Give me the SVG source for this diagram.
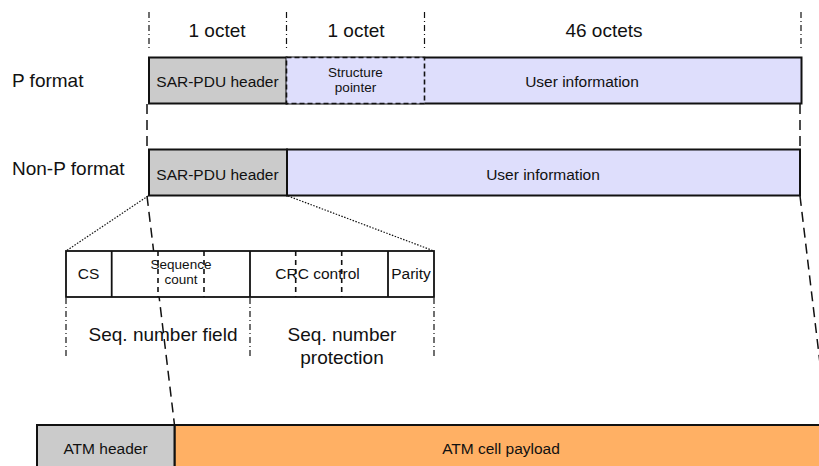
<svg xmlns="http://www.w3.org/2000/svg" width="819" height="466" viewBox="0 0 819 466">
<style>
text{font-family:"Liberation Sans",Arial,sans-serif;fill:#111;}
.lbl{font-size:19px;}
.box{font-size:15.5px;}
.sm{font-size:13.5px;}
.gray{fill:#cbcbcb;stroke:#111;stroke-width:2;}
.lav{fill:#dedefc;stroke:#111;stroke-width:2;}
.lavd{fill:#dedefc;stroke:#111;stroke-width:1.6;stroke-dasharray:5,3;}
.org{fill:#ffb064;stroke:#111;stroke-width:2;}
.wb{fill:#fff;stroke:#111;stroke-width:1.8;}
.dd{stroke:#111;stroke-width:1.2;stroke-dasharray:6,3,1,3;fill:none;}
.dash{stroke:#111;stroke-width:1.5;stroke-dasharray:10,6;fill:none;}
.dot{stroke:#111;stroke-width:1.2;stroke-dasharray:1.5,1.5;fill:none;}
.idash{stroke:#111;stroke-width:1.6;stroke-dasharray:5,4;fill:none;}
</style>

<g id="connectors">
<line class="dd" x1="149" y1="12" x2="149" y2="50"/>
<line class="dd" x1="286.5" y1="12" x2="286.5" y2="50"/>
<line class="dd" x1="424.5" y1="12" x2="424.5" y2="50"/>
<line class="dd" x1="801" y1="12" x2="801" y2="50"/>
<line class="dash" x1="147" y1="104" x2="147" y2="149"/>
<line class="dash" x1="800" y1="104" x2="800" y2="149"/>
<line class="dot" x1="148" y1="196" x2="66" y2="251"/>
<line class="dot" x1="288" y1="196" x2="434" y2="251"/>
<line class="dash" x1="147" y1="196" x2="174.5" y2="425"/>
<line class="dash" x1="800" y1="196" x2="822" y2="380"/>
<line class="dd" x1="66" y1="298" x2="66" y2="357"/>
<line class="dd" x1="250" y1="298" x2="250" y2="357"/>
<line class="dd" x1="434" y1="298" x2="434" y2="357"/>
</g>

<g id="octet-labels">
<text class="lbl" x="217" y="37" text-anchor="middle">1 octet</text>
<text class="lbl" x="356" y="37" text-anchor="middle">1 octet</text>
<text class="lbl" x="604" y="37" text-anchor="middle">46 octets</text>
</g>

<g id="p-format">
<text class="lbl" x="12" y="87">P format</text>
<rect class="lav" x="286.5" y="57.5" width="515" height="46"/>
<rect class="gray" x="149" y="57.5" width="137.5" height="46"/>
<rect class="lavd" x="286.5" y="57.5" width="138" height="46"/>
<text class="box" x="217.5" y="86.5" text-anchor="middle">SAR-PDU header</text>
<text class="sm" x="355.5" y="77" text-anchor="middle">Structure</text>
<text class="sm" x="355.5" y="92" text-anchor="middle">pointer</text>
<text class="box" x="582" y="87" text-anchor="middle">User information</text>
</g>

<g id="non-p-format">
<text class="lbl" x="12" y="175">Non-P format</text>
<rect class="lav" x="287" y="149.5" width="513" height="46"/>
<rect class="gray" x="149" y="149.5" width="138" height="46"/>
<text class="box" x="217.5" y="180" text-anchor="middle">SAR-PDU header</text>
<text class="box" x="543" y="180" text-anchor="middle">User information</text>
</g>

<g id="header-detail">
<rect class="wb" x="66" y="251" width="368" height="46"/>
<line stroke="#111" stroke-width="1.8" x1="111.7" y1="251" x2="111.7" y2="297"/>
<line stroke="#111" stroke-width="1.8" x1="250" y1="251" x2="250" y2="297"/>
<line stroke="#111" stroke-width="1.8" x1="388" y1="251" x2="388" y2="297"/>
<line class="idash" x1="158" y1="251" x2="158" y2="297"/>
<line class="idash" x1="204" y1="251" x2="204" y2="297"/>
<line class="idash" x1="295.7" y1="251" x2="295.7" y2="297"/>
<line class="idash" x1="341.7" y1="251" x2="341.7" y2="297"/>
<text class="box" x="88.5" y="279" text-anchor="middle">CS</text>
<text class="sm" x="181" y="269" text-anchor="middle">Sequence</text>
<text class="sm" x="181" y="284" text-anchor="middle">count</text>
<text class="box" x="317.5" y="279" text-anchor="middle">CRC control</text>
<text class="box" x="411" y="279" text-anchor="middle">Parity</text>
</g>

<g id="field-labels">
<text class="lbl" x="163" y="341" text-anchor="middle">Seq. number field</text>
<text class="lbl" x="342" y="341" text-anchor="middle">Seq. number</text>
<text class="lbl" x="342" y="364" text-anchor="middle">protection</text>
</g>

<g id="atm-cell">
<rect class="org" x="174.5" y="425" width="660" height="55"/>
<rect class="gray" x="37" y="425" width="137.5" height="55"/>
<text class="box" x="105.5" y="454" text-anchor="middle">ATM header</text>
<text class="box" x="501" y="454" text-anchor="middle">ATM cell payload</text>
</g>
</svg>
